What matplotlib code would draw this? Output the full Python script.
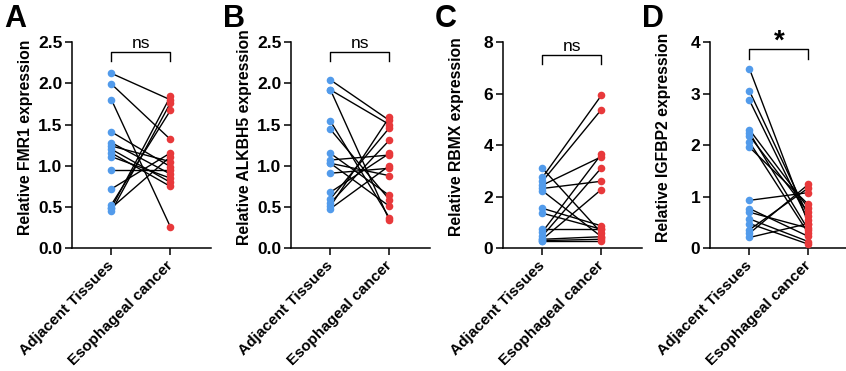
import matplotlib

matplotlib.use("Agg")
import matplotlib.pyplot as plt

plt.rcParams["font.family"] = ["Liberation Sans", "DejaVu Sans"]

W, H = 846, 371
groups = ["Adjacent Tissues", "Esophageal cancer"]

# paired values (adjacent -> cancer)
fmr1_adj = [2.12, 1.99, 1.80, 1.41, 1.28, 1.24, 1.20, 1.155, 1.11, 0.95, 0.72, 0.53, 0.49, 0.49, 0.45]
fmr1_eso = [1.80, 1.32, 0.26, 0.99, 0.90, 1.05, 0.80, 0.75, 0.85, 0.95, 1.155, 1.67, 1.84, 1.11, 1.76]

alkbh5_adj = [2.04, 1.92, 1.92, 1.54, 1.44, 1.15, 1.07, 1.03, 0.91, 0.68, 0.60, 0.55, 0.51, 0.48, 1.03]
alkbh5_eso = [1.55, 1.50, 0.34, 0.37, 0.59, 0.64, 1.13, 0.88, 0.97, 1.15, 1.46, 1.31, 1.59, 1.00, 0.51]

rbmx_adj = [3.10, 2.75, 2.60, 2.45, 2.32, 2.23, 1.55, 1.36, 0.74, 0.64, 0.48, 0.35, 0.30, 0.30, 0.35]
rbmx_eso = [0.60, 5.93, 5.38, 3.55, 2.60, 0.45, 0.87, 0.74, 0.74, 3.65, 3.12, 2.28, 0.35, 0.30, 0.45]

igfbp2_adj = [3.48, 3.05, 2.87, 2.30, 2.24, 2.18, 2.06, 1.96, 0.93, 0.77, 0.70, 0.57, 0.48, 0.36, 0.29, 0.21]
igfbp2_eso = [0.48, 0.62, 0.54, 0.78, 0.36, 0.70, 0.29, 0.85, 1.08, 0.23, 0.39, 0.13, 0.08, 1.17, 1.24, 0.48]

panels = [
    ("A", "Relative FMR1 expression", fmr1_adj, fmr1_eso, 2.5, [0, 0.5, 1.0, 1.5, 2.0, 2.5], "{:.1f}", "ns", 2.38, 2.27),
    ("B", "Relative ALKBH5 expression", alkbh5_adj, alkbh5_eso, 2.5, [0, 0.5, 1.0, 1.5, 2.0, 2.5], "{:.1f}", "ns", 2.38, 2.27),
    ("C", "Relative RBMX expression", rbmx_adj, rbmx_eso, 8, [0, 2, 4, 6, 8], "{:.0f}", "ns", 7.49, 7.13),
    ("D", "Relative IGFBP2 expression", igfbp2_adj, igfbp2_eso, 4, [0, 1, 2, 3, 4], "{:.0f}", "*", 3.87, 3.68),
]
left_px = [72, 291, 503, 710]

BLUE = "#529BEB"
RED = "#E8393B"

fig = plt.figure(figsize=(W / 100, H / 100), dpi=100)
for (letter, ylabel, adj, eso, ymax, yticks, fmt, sig, by, bend), lp in zip(panels, left_px):
    ax = fig.add_axes([lp / W, 1 - 248.3 / H, 139 / W, (248.3 - 42) / H])
    for a, e in zip(adj, eso):
        ax.plot([0, 1], [a, e], color="black", lw=1.0, zorder=2, clip_on=False)
    ax.scatter([0] * len(adj), adj, s=30, color=BLUE, zorder=3, clip_on=False, linewidths=0)
    ax.scatter([1] * len(eso), eso, s=30, color=RED, zorder=3, clip_on=False, linewidths=0)

    ax.set_xlim(-0.67, 1.69)
    ax.set_ylim(0, ymax)
    ax.set_yticks(yticks)
    ax.set_yticklabels([fmt.format(v) for v in yticks], fontsize=12.5, fontweight="bold")
    ax.set_xticks([0, 1])
    ax.set_xticklabels(groups, rotation=45, ha="right", va="center",
                       rotation_mode="anchor", fontsize=11.1, fontweight="bold")
    ax.tick_params(length=5, width=1.1, pad=2)
    ax.tick_params(axis="x", pad=6)
    for s in ("top", "right"):
        ax.spines[s].set_visible(False)
    for s in ("left", "bottom"):
        ax.spines[s].set_linewidth(1.1)
    ax.set_ylabel(ylabel, fontsize=11.3, fontweight="bold")
    ax.yaxis.set_label_coords(-0.28, 0.54)

    # significance bracket
    ax.plot([0, 0, 1, 1], [bend, by, by, bend], color="black", lw=1.0, clip_on=False)
    if sig == "*":
        ax.annotate(sig, (0.5, by), xytext=(0, -4), textcoords="offset points",
                    ha="center", va="bottom", fontsize=20, fontweight="bold",
                    annotation_clip=False)
    else:
        ax.annotate(sig, (0.5, by), xytext=(0, 1), textcoords="offset points",
                    ha="center", va="bottom", fontsize=12.5, annotation_clip=False)

    fig.text((lp - 68) / W, 1 - 4 / H, letter, fontsize=22, fontweight="bold",
             ha="left", va="top")

fig.savefig("out.png", dpi=100)
